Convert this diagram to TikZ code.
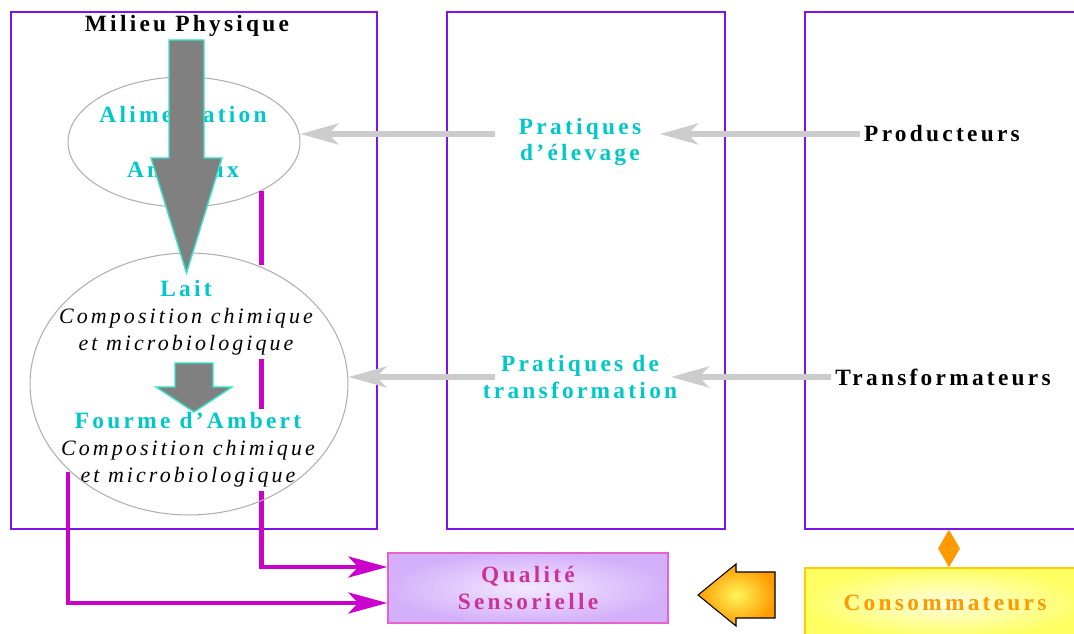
\documentclass[tikz,border=0pt]{standalone}
\usepackage{fontspec}
\setmainfont{Liberation Serif}
\newfontfamily\spacedbf[LetterSpace=14]{Liberation Serif}
\newfontfamily\spacedit[LetterSpace=14]{Liberation Serif}
\usepackage{tikz}
\usetikzlibrary{positioning, arrows.meta, shapes.geometric, calc}

\definecolor{violetframe}{RGB}{125,20,235}
\definecolor{cyantext}{RGB}{0,200,200}
\definecolor{aquaedge}{RGB}{51,230,204}
\definecolor{blockgray}{RGB}{128,128,128}
\definecolor{arrowgray}{RGB}{204,204,204}
\definecolor{ellgray}{RGB}{175,175,175}
\definecolor{purpleline}{RGB}{204,0,204}
\definecolor{rosetext}{RGB}{204,51,153}
\definecolor{rosedge}{RGB}{228,100,200}
\definecolor{lilacin}{RGB}{242,232,255}
\definecolor{lilacout}{RGB}{212,176,250}
\definecolor{orangetext}{RGB}{255,153,0}
\definecolor{yellowin}{RGB}{255,255,225}
\definecolor{yellowout}{RGB}{255,255,100}
\definecolor{goldedge}{RGB}{255,204,0}
\definecolor{arrowyellow}{RGB}{255,245,90}
\definecolor{arroworange}{RGB}{255,155,0}

\newcommand{\cyanbf}[1]{{\spacedbf\bfseries\fontsize{13.3}{15.3}\selectfont\color{cyantext}#1}}
\newcommand{\spit}[1]{{\spacedit\itshape\fontsize{12.5}{15.3}\selectfont #1}}

\begin{document}
\begin{tikzpicture}[x=0.02cm, y=-0.02cm, >=Stealth,
    panel/.style={draw=violetframe, line width=0.7pt, minimum height=10.34cm, inner sep=0pt},
    boldlabel/.style={font=\spacedbf\bfseries\fontsize{13.3}{15.3}\selectfont, align=center, inner sep=2pt},
    textblock/.style={font=\fontsize{12.5}{15.3}\selectfont, align=center, fill=white, inner sep=2pt},
    oval/.style={ellipse, draw=ellgray, line width=0.6pt, inner sep=0pt},
    grayarrow/.style={draw=arrowgray, line width=3pt, -{Stealth[length=0.76cm, width=0.42cm, inset=0.2cm]}},
    pinkarrow/.style={draw=purpleline, line width=2.8pt, -{Stealth[length=0.78cm, width=0.42cm, inset=0.2cm]}},
    blockarrow/.style={fill=blockgray, draw=aquaedge, line width=0.8pt}]

    \path[use as bounding box, clip] (0,0) rectangle (1074,634);

    % the three columns
    \node[panel, minimum width=7.32cm] (phys) at (194,270.5) {};
    \node[panel, minimum width=5.56cm] (prat) at (586,270.5) {};
    \node[panel, minimum width=5.6cm] (acteurs) at (945,270.5) {};

    \node[oval, minimum width=4.64cm, minimum height=2.6cm] (alim) at (184,142) {};
    \node[boldlabel, text=cyantext] (alimtext) at (183,142) {Alimentation\\[16pt]Animaux};

    % bottom boxes
    \node[boldlabel, draw=rosedge, line width=0.8pt, shade, shading=radial, inner color=lilacin,
        outer color=lilacout, minimum width=5.6cm, minimum height=1.4cm, text=rosetext]
        (qual) at (528,588) {Qualité\\Sensorielle};
    \node[boldlabel, draw=goldedge, line width=0.8pt, shade, shading=radial, inner color=yellowin,
        outer color=yellowout, minimum width=5.6cm, minimum height=1.4cm, text=orangetext]
        (cons) at (945,603) {Consommateurs};

    \coordinate (q1) at ($(qual.west)+(0,-21)$);
    \coordinate (q2) at ($(qual.west)+(0,15)$);
    \coordinate (m2) at (68,472);

    % links to the sensory quality
    \draw[pinkarrow] (alim.-32.5) |- (q1);

    \node[textblock] (laittext) at (186,312)
        {\cyanbf{\rule{0pt}{0.56cm}Lait}\\\spit{Composition chimique}\\\spit{et microbiologique}};
    \node[textblock] (fourmetext) at (188,450)
        {\cyanbf{Fourme d’Ambert}\\\spit{Composition chimique}\\\spit{et microbiologique}};
    \node[oval, minimum width=6.36cm, minimum height=5.24cm] (laitell) at (189,384) {};

    \draw[pinkarrow] (m2) |- (q2);

    \node[boldlabel] (milieu) at (187,26) {Milieu Physique};
    \node[boldlabel, text=cyantext] (prat1) at (580,142) {Pratiques\\d’élevage};
    \node[boldlabel, text=cyantext] (prat2) at (580,377) {Pratiques de\\transformation};
    \node[boldlabel] (prod) at (942,134) {Producteurs};
    \node[boldlabel] (trans) at (943,377) {Transformateurs};

    % practices
    \draw[grayarrow, shorten >=1.6cm] (prod.west) -- (prod.west -| prat1.center);
    \draw[grayarrow, shorten <=1.7cm] (prod.west -| prat1.center) -- (prod.west -| alim.east);
    \draw[grayarrow, shorten >=1.82cm] (trans.west) -- (trans.west -| prat2.center);
    \draw[grayarrow, shorten <=1.7cm] (trans.west -| prat2.center) -- (trans.west -| laitell.east);

    % consumers
    \draw[draw=orangetext, line width=2pt, {Triangle[length=0.38cm, width=0.42cm]}-{Triangle[length=0.38cm, width=0.42cm]}]
        ([xshift=0.08cm]cons.north) -- ([xshift=0.08cm]cons.north |- acteurs.south);
    \draw[black, line width=0.6pt, shade, shading=radial, inner color=arrowyellow, outer color=arroworange]
        (698,595) -- (736,564) -- (736,572) -- (775,572) -- (775,618) -- (736,618) -- (736,626) -- cycle;

    % block arrows
    \draw[blockarrow] (169,40) -- (204,40) -- (204,158) -- (222,158) -- (186.5,273) -- (151,158) -- (169,158) -- cycle;
    \draw[blockarrow] (175,363) -- (213,363) -- (213,387) -- (232,387) -- (194,412) -- (156,387) -- (175,387) -- cycle;
\end{tikzpicture}
\end{document}
